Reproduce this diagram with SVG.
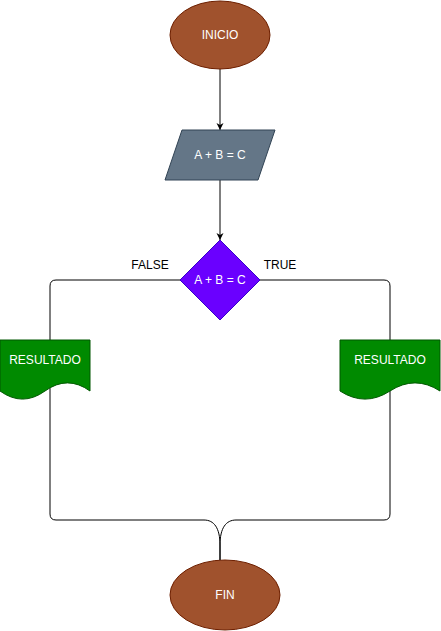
<svg xmlns="http://www.w3.org/2000/svg" width="441" height="631" viewBox="0 0 441 631">
<style>
.lbl{font-family:"Liberation Sans",Arial,sans-serif;font-size:12px;text-anchor:middle;dominant-baseline:central}
.w{fill:#ffffff}
.b{fill:#000000}
.edge{fill:none;stroke:#000000;stroke-width:1}
.term{fill:#a0522d;stroke:#6d1f00}
.doc{fill:#008a00;stroke:#005700}
</style>
<defs>
<marker id="arr" markerWidth="8" markerHeight="8" refX="7" refY="4" orient="auto" markerUnits="userSpaceOnUse">
<path d="M0,0.5 L7,4 L0,7.5 L2,4 Z" fill="#000"/>
</marker>
</defs>
<g id="connectors">
<path class="edge" d="M220,69 V130" marker-end="url(#arr)"/>
<path class="edge" d="M220,180 V240" marker-end="url(#arr)"/>
<path class="edge" d="M180,280 H56 Q50,280 50,286 V514 Q50,520 56,520 H204 C214,520 220,528 220,545 V560"/>
<path class="edge" d="M260,280 H384 Q390,280 390,286 V514 Q390,520 384,520 H236 C226,520 220,528 220,545 V560"/>
</g>
<g id="inicio">
<ellipse class="term" cx="220" cy="35" rx="50" ry="34"/>
<text class="lbl w" x="220" y="35">INICIO</text>
</g>
<g id="input">
<polygon points="182,130 275,130 258,180 165,180" fill="#647687" stroke="#314354"/>
<text class="lbl w" x="220" y="155">A + B = C</text>
</g>
<g id="decision">
<polygon points="220,240 260,280 220,320 180,280" fill="#6a00ff" stroke="#3700cc"/>
<text class="lbl w" x="220" y="280">A + B = C</text>
</g>
<g id="label-false">
<text class="lbl b" x="150" y="265">FALSE</text>
</g>
<g id="label-true">
<text class="lbl b" x="280" y="265">TRUE</text>
</g>
<g id="doc-left">
<path class="doc" d="M0,340 H90 V391 Q67.5,374.8 45,391 Q22.5,407.2 0,391 Z"/>
<text class="lbl w" x="45" y="360">RESULTADO</text>
</g>
<g id="doc-right">
<path class="doc" d="M340,340 H440 V391 Q415,374.8 390,391 Q365,407.2 340,391 Z"/>
<text class="lbl w" x="390" y="360">RESULTADO</text>
</g>
<g id="fin">
<ellipse class="term" cx="225" cy="595" rx="55" ry="35"/>
<text class="lbl w" x="225" y="595">FIN</text>
</g>
</svg>
